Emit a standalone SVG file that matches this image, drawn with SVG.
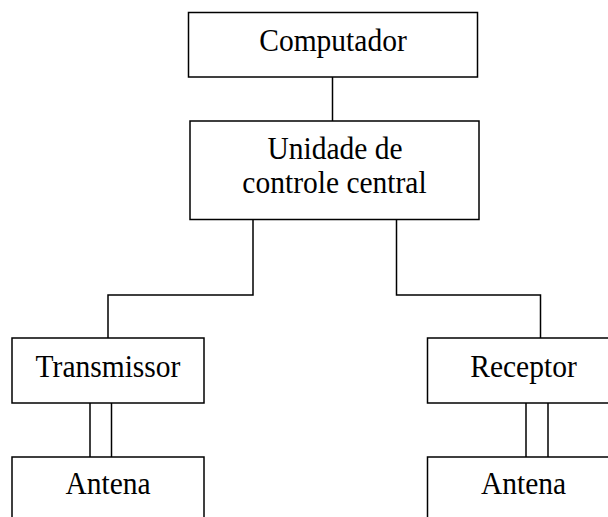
<svg xmlns="http://www.w3.org/2000/svg" width="608" height="517" viewBox="0 0 608 517">
<style>
.box{fill:#fff;stroke:#000;stroke-width:1.5}
.ln{fill:none;stroke:#000;stroke-width:1.5}
text{font-family:"Liberation Serif","Times New Roman",serif;font-size:31px;fill:#000;text-anchor:middle}
</style>
<rect width="608" height="517" fill="#fff"/>
<g id="connectors">
<line class="ln" x1="332.5" y1="77" x2="332.5" y2="121"/>
<polyline class="ln" points="253,219.5 253,295 108,295 108,338"/>
<polyline class="ln" points="396.5,219.5 396.5,295 540.5,295 540.5,338"/>
<line class="ln" x1="90" y1="403" x2="90" y2="457"/>
<line class="ln" x1="111.5" y1="403" x2="111.5" y2="457"/>
<line class="ln" x1="526" y1="403" x2="526" y2="457"/>
<line class="ln" x1="548" y1="403" x2="548" y2="457"/>
</g>
<g id="computador">
<rect class="box" x="188.5" y="12.5" width="289" height="64.5"/>
<text transform="translate(333 51) scale(0.952 1)">Computador</text>
</g>
<g id="unidade">
<rect class="box" x="190" y="121" width="289" height="98.5"/>
<text transform="translate(335 158.5) scale(0.952 1)">Unidade de</text>
<text transform="translate(334.5 192.5) scale(0.952 1)">controle central</text>
</g>
<g id="transmissor">
<rect class="box" x="12" y="338" width="192" height="65"/>
<text transform="translate(108 376.5) scale(0.952 1)">Transmissor</text>
</g>
<g id="receptor">
<rect class="box" x="427.5" y="338" width="192" height="65"/>
<text transform="translate(523.5 376.5) scale(0.952 1)">Receptor</text>
</g>
<g id="antena-t">
<rect class="box" x="12" y="457" width="192" height="80"/>
<text transform="translate(108 494) scale(0.952 1)">Antena</text>
</g>
<g id="antena-r">
<rect class="box" x="427.5" y="457" width="192" height="80"/>
<text transform="translate(523.5 494) scale(0.952 1)">Antena</text>
</g>
</svg>
